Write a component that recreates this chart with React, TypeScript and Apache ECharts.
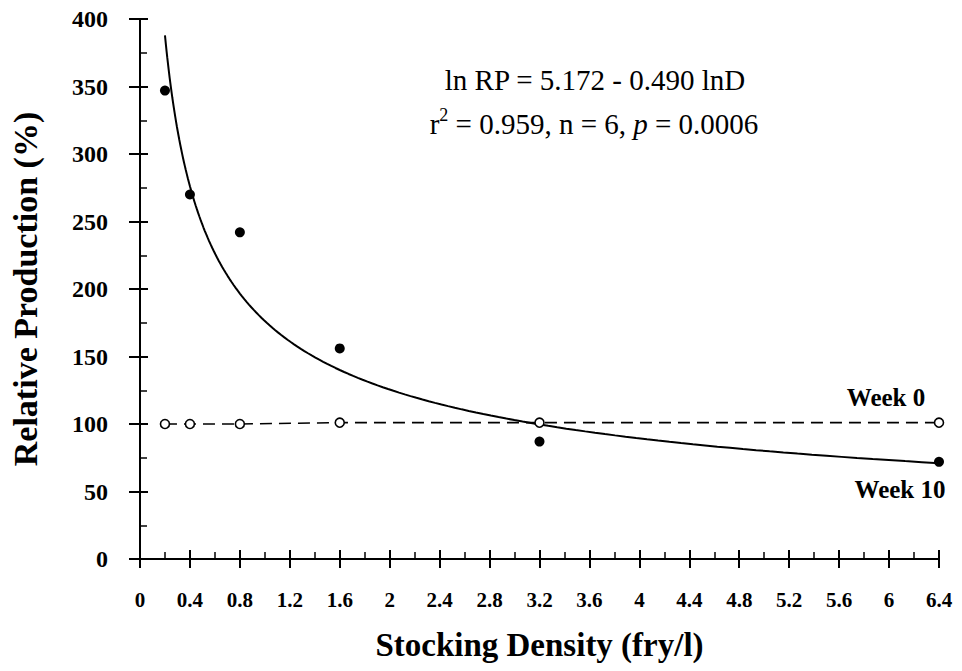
import React, { useEffect, useRef } from "react";
import * as echarts from "echarts";

// Stocking density (fry/l)
const DENSITY = [0.2, 0.4, 0.8, 1.6, 3.2, 6.4];
// Relative production (%) at week 10 (filled) and week 0 (open)
const WEEK10 = [347, 270, 242, 156, 87, 72];
const WEEK0 = [100, 100, 100, 101, 101, 101];
// Regression stated on the chart: ln RP = 5.172 - 0.490 lnD
const FIT_INTERCEPT = 5.172;
const FIT_SLOPE = -0.49;
const FIT_STEPS = 160;

const X_MIN = 0;
const X_MAX = 6.4;
const X_INTERVAL = 0.4;
const Y_MIN = 0;
const Y_MAX = 400;
const Y_INTERVAL = 50;

const X_TITLE = "Stocking Density (fry/l)";
const Y_TITLE = "Relative Production (%)";
const EQ_LINE1 = "ln RP = 5.172 - 0.490 lnD";
const EQ_LINE2 = "{n|r}{sup|2}{n| = 0.959, n = 6, }{it|p}{n| = 0.0006}";
const LABEL_W0 = "Week 0";
const LABEL_W10 = "Week 10";

const SERIF = "Liberation Serif";

function fitCurve(): number[][] {
  const d0 = DENSITY[0];
  const d1 = DENSITY[DENSITY.length - 1];
  const pts: number[][] = [];
  for (let i = 0; i <= FIT_STEPS; i++) {
    // log-spaced samples so the steep end is smooth
    const d = Math.exp(Math.log(d0) + ((Math.log(d1) - Math.log(d0)) * i) / FIT_STEPS);
    pts.push([d, Math.exp(FIT_INTERCEPT + FIT_SLOPE * Math.log(d))]);
  }
  return pts;
}

export default function App() {
  const ref = useRef<HTMLDivElement>(null);
  useEffect(() => {
    if (!ref.current) return;
    const chart = echarts.init(ref.current, null, { renderer: "svg" });
    const black = "#000";
    const fmt = (v: number) => String(+v.toFixed(1));
    const baseX = {
      type: "value",
      min: X_MIN,
      max: X_MAX,
      interval: X_INTERVAL,
      position: "bottom",
      splitLine: { show: false },
    };
    const baseY = {
      type: "value",
      min: Y_MIN,
      max: Y_MAX,
      interval: Y_INTERVAL,
      position: "left",
      splitLine: { show: false },
    };
    const tok = { fontFamily: SERIF, fontSize: 29, fill: black, lineHeight: 33, verticalAlign: "bottom" };
    chart.setOption({
      animation: false,
      backgroundColor: "#fff",
      grid: { left: 139, right: 23, top: 19, bottom: 112 },
      xAxis: [
        {
          ...baseX,
          axisLine: { show: true, onZero: false, lineStyle: { color: black, width: 2 } },
          axisTick: { show: true, inside: true, length: 9, lineStyle: { color: black, width: 2 } },
          minorTick: { show: true, splitNumber: 2, length: 7, lineStyle: { color: black, width: 1.5 } },
          axisLabel: {
            margin: 30,
            color: black,
            fontFamily: SERIF,
            fontWeight: "bold",
            fontSize: 21,
            formatter: fmt,
          },
          name: X_TITLE,
          nameLocation: "middle",
          nameGap: 69,
          nameTextStyle: { color: black, fontFamily: SERIF, fontWeight: "bold", fontSize: 33 },
        },
        {
          ...baseX,
          axisLine: { show: false, onZero: false },
          axisTick: { show: true, inside: false, length: 9, lineStyle: { color: black, width: 2 } },
          axisLabel: { show: false },
        },
      ],
      yAxis: [
        {
          ...baseY,
          axisLine: { show: true, onZero: false, lineStyle: { color: black, width: 2 } },
          axisTick: { show: true, inside: true, length: 8, lineStyle: { color: black, width: 2 } },
          minorTick: { show: true, splitNumber: 2, length: 7, lineStyle: { color: black, width: 1.5 } },
          axisLabel: {
            margin: 32,
            color: black,
            fontFamily: SERIF,
            fontWeight: "bold",
            fontSize: 24,
          },
          name: Y_TITLE,
          nameLocation: "middle",
          nameGap: 98,
          nameRotate: 90,
          nameTextStyle: { color: black, fontFamily: SERIF, fontWeight: "bold", fontSize: 34 },
        },
        {
          ...baseY,
          axisLine: { show: false, onZero: false },
          axisTick: { show: true, inside: false, length: 11, lineStyle: { color: black, width: 2 } },
          axisLabel: { show: false },
        },
      ],
      series: [
        {
          name: "Fit",
          type: "line",
          xAxisIndex: 0,
          yAxisIndex: 0,
          data: fitCurve(),
          showSymbol: false,
          symbol: "none",
          smooth: false,
          lineStyle: { color: black, width: 2 },
          silent: true,
          z: 2,
        },
        {
          name: LABEL_W0,
          type: "line",
          xAxisIndex: 0,
          yAxisIndex: 0,
          data: DENSITY.map((d, i) => [d, WEEK0[i]]),
          symbol: "circle",
          symbolSize: 9,
          itemStyle: { color: "#fff", borderColor: black, borderWidth: 1.6, opacity: 1 },
          lineStyle: { color: black, width: 1.6, type: [12, 7] },
          z: 3,
        },
        {
          name: LABEL_W10,
          type: "scatter",
          xAxisIndex: 0,
          yAxisIndex: 0,
          data: DENSITY.map((d, i) => [d, WEEK10[i]]),
          symbol: "circle",
          symbolSize: 10,
          itemStyle: { color: black, opacity: 1 },
          z: 4,
        },
      ],
      graphic: [
        {
          type: "text",
          x: 595,
          y: 80,
          style: {
            text: EQ_LINE1,
            fill: black,
            fontFamily: SERIF,
            fontSize: 29,
            align: "center",
            verticalAlign: "middle",
          },
        },
        {
          type: "text",
          x: 594,
          y: 122,
          style: {
            text: EQ_LINE2,
            fill: black,
            fontFamily: SERIF,
            fontSize: 29,
            align: "center",
            verticalAlign: "middle",
            rich: {
              n: { ...tok },
              sup: { fontFamily: SERIF, fontSize: 18, fill: black, lineHeight: 33, verticalAlign: "top" },
              it: { ...tok, fontStyle: "italic" },
            },
          },
        },
        {
          type: "text",
          x: 886,
          y: 397,
          style: {
            text: LABEL_W0,
            fill: black,
            fontFamily: SERIF,
            fontWeight: "bold",
            fontSize: 25,
            align: "center",
            verticalAlign: "middle",
          },
        },
        {
          type: "text",
          x: 900,
          y: 489,
          style: {
            text: LABEL_W10,
            fill: black,
            fontFamily: SERIF,
            fontWeight: "bold",
            fontSize: 25,
            align: "center",
            verticalAlign: "middle",
          },
        },
      ],
    });
    return () => chart.dispose();
  }, []);
  return <div ref={ref} style={{ width: 962, height: 671, position: "absolute", left: 0, top: 0 }} />;
}
